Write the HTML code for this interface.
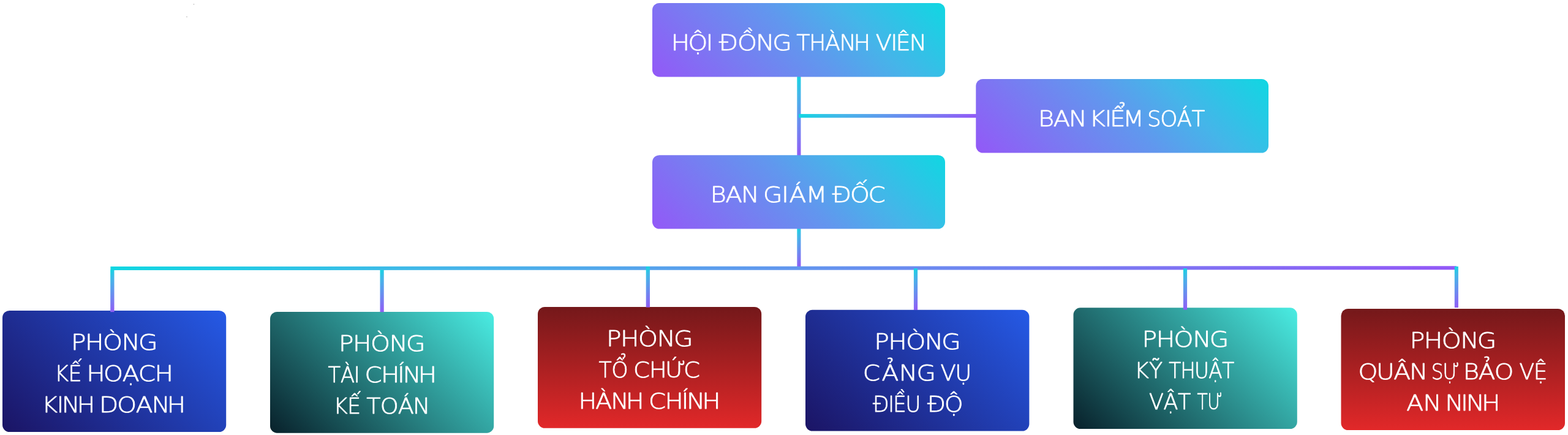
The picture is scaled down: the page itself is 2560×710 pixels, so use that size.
<!DOCTYPE html>
<html lang="vi">
<head>
<meta charset="utf-8">
<title>Sơ đồ tổ chức</title>
<style>
html,body{margin:0;padding:0;width:2560px;height:710px;background:#fff}
svg{display:block;will-change:transform}
text{font-family:'DejaVu Sans Light','DejaVu Sans','Liberation Sans',sans-serif;font-weight:200;font-size:36.3px;fill:#fff;stroke:#fff;stroke-width:0.8;stroke-linejoin:round;white-space:pre}
</style>
</head>
<body>
<svg width="2560" height="710" viewBox="0 0 2560 710">
<defs>
<linearGradient id="gpv" gradientUnits="userSpaceOnUse" x1="89.4" y1="209.8" x2="388.6" y2="-89.4"><stop offset="0" stop-color="#9358f7"/><stop offset="0.25" stop-color="#7b78f2"/><stop offset="0.5" stop-color="#6197ee"/><stop offset="0.7" stop-color="#45b5e9"/><stop offset="1" stop-color="#10d7e2"/></linearGradient>
<linearGradient id="gbl" gradientUnits="userSpaceOnUse" x1="41.83" y1="239.83" x2="323.48" y2="-41.83"><stop offset="0" stop-color="#1b1464"/><stop offset="1" stop-color="#255ae6"/></linearGradient>
<linearGradient id="gtl" gradientUnits="userSpaceOnUse" x1="41.83" y1="239.83" x2="323.48" y2="-41.83"><stop offset="0" stop-color="#08202a"/><stop offset="1" stop-color="#4aede3"/></linearGradient>
<linearGradient id="grd" x1="0" y1="0" x2="0" y2="1"><stop offset="0" stop-color="#74181a"/><stop offset="1" stop-color="#e22829"/></linearGradient>
<linearGradient id="gv" x1="0" y1="0" x2="0.0987" y2="1.0822"><stop offset="0" stop-color="#10d7e2"/><stop offset="0.25" stop-color="#45b5e9"/><stop offset="0.5" stop-color="#6197ee"/><stop offset="0.75" stop-color="#7b78f2"/><stop offset="1" stop-color="#9358f7"/></linearGradient>
<linearGradient id="gw" x1="0" y1="0" x2="0.0488" y2="1.0445"><stop offset="0" stop-color="#10d7e2"/><stop offset="0.25" stop-color="#45b5e9"/><stop offset="0.5" stop-color="#6197ee"/><stop offset="0.75" stop-color="#7b78f2"/><stop offset="1" stop-color="#9358f7"/></linearGradient>
<linearGradient id="gh" x1="0" y1="0" x2="1.0027" y2="0.0027"><stop offset="0" stop-color="#10d7e2"/><stop offset="0.25" stop-color="#45b5e9"/><stop offset="0.5" stop-color="#6197ee"/><stop offset="0.75" stop-color="#7b78f2"/><stop offset="1" stop-color="#9358f7"/></linearGradient>
<linearGradient id="gs" x1="0" y1="0" x2="1.0206" y2="0.0215"><stop offset="0" stop-color="#10d7e2"/><stop offset="0.25" stop-color="#45b5e9"/><stop offset="0.5" stop-color="#6197ee"/><stop offset="0.75" stop-color="#7b78f2"/><stop offset="1" stop-color="#9358f7"/></linearGradient>
</defs>
<g id="specks" fill="#bcbcbc"><rect x="316" y="6" width="1" height="2"/><rect x="304" y="27" width="2" height="1"/></g>
<g id="connectors">
<rect x="1301.35" y="124" width="6.1" height="130.5" fill="url(#gw)"/>
<rect x="1304" y="186.1" width="290" height="6.1" fill="url(#gs)"/>
<rect x="1301.35" y="372" width="6.1" height="63" fill="url(#gv)"/>
</g>
<g id="b1" transform="translate(1065 5)">
<rect width="478" height="120.4" rx="11.5" fill="url(#gpv)"/>
<text y="77"><tspan x="30.75 58.4 87.54" textLength="74.12" lengthAdjust="spacingAndGlyphs">HỘI</tspan> <tspan x="108.76 138.9 169.13 196.3" textLength="125.42" lengthAdjust="spacingAndGlyphs">ĐỒNG</tspan> <tspan x="235.24 256.12 281.98 305.43 328.75" textLength="129.11" lengthAdjust="spacingAndGlyphs">THÀNH</tspan> <tspan x="364.77 389.24 397.56 419.56" textLength="90.26" lengthAdjust="spacingAndGlyphs">VIÊN</tspan></text>
</g>
<g id="b2" transform="translate(1593.3 129)">
<rect width="477.7" height="120.6" rx="11.5" fill="url(#gpv)"/>
<text y="77"><tspan x="101.58 126.35 151.71" textLength="83.22" lengthAdjust="spacingAndGlyphs">BAN</tspan> <tspan x="185.04 210.11 218.58 239.9" textLength="98.59" lengthAdjust="spacingAndGlyphs">KIỂM</tspan> <tspan x="279.7 300.96 328.23 352.21" textLength="97.34" lengthAdjust="spacingAndGlyphs">SOÁT</tspan></text>
</g>
<g id="b3" transform="translate(1065 253.2)">
<rect width="478" height="120.35" rx="11.5" fill="url(#gpv)"/>
<text y="76.8"><tspan x="94.83 119.6 144.96" textLength="83.22" lengthAdjust="spacingAndGlyphs">BAN</tspan> <tspan x="180.96 211.12 223.61 250.61" textLength="106.38" lengthAdjust="spacingAndGlyphs">GIÁM</tspan> <tspan x="293.8 323.04 352.63" textLength="91.6" lengthAdjust="spacingAndGlyphs">ĐỐC</tspan></text>
</g>
<g id="p1" transform="translate(4 507)">
<rect width="365.2" height="198" rx="11.5" fill="url(#gbl)"/>
<text y="64"><tspan x="112.09 135.12 164.06 194.62 222.14" textLength="149.01" lengthAdjust="spacingAndGlyphs">PHÒNG</tspan></text>
<text y="115"><tspan x="85.09 107.46" textLength="45.13" lengthAdjust="spacingAndGlyphs">KẾ</tspan> <tspan x="137.22 165.02 195.67 221.74 248.53" textLength="149.34" lengthAdjust="spacingAndGlyphs">HOẠCH</tspan></text>
<text y="166"><tspan x="64.35 88.74 97.06 121.7" textLength="95.74" lengthAdjust="spacingAndGlyphs">KINH</tspan> <tspan x="158.07 187.27 217.75 243.43 268.76" textLength="151.32" lengthAdjust="spacingAndGlyphs">DOANH</tspan></text>
</g>
<g id="p2" transform="translate(441 509)">
<rect width="365.2" height="197.7" rx="11.5" fill="url(#gtl)"/>
<text y="64"><tspan x="112.09 135.12 164.06 194.62 222.14" textLength="149.01" lengthAdjust="spacingAndGlyphs">PHÒNG</tspan></text>
<text y="115"><tspan x="94.59 115.03 136.84" textLength="53.5" lengthAdjust="spacingAndGlyphs">TÀI</tspan> <tspan x="154.4 181.04 208.06 216.48 241.79" textLength="131.14" lengthAdjust="spacingAndGlyphs">CHÍNH</tspan></text>
<text y="166"><tspan x="103.58 125.95" textLength="45.13" lengthAdjust="spacingAndGlyphs">KẾ</tspan> <tspan x="157.38 179.83 208.7 233.1" textLength="107.92" lengthAdjust="spacingAndGlyphs">TOÁN</tspan></text>
</g>
<g id="p3" transform="translate(878 501)">
<rect width="365.2" height="197.8" rx="11.5" fill="url(#grd)"/>
<text y="64"><tspan x="112.09 135.12 164.06 194.62 222.14" textLength="149.01" lengthAdjust="spacingAndGlyphs">PHÒNG</tspan></text>
<text y="115"><tspan x="99.56 120.24" textLength="48.63" lengthAdjust="spacingAndGlyphs">TỔ</tspan> <tspan x="155.96 181.69 207.9 238.08" textLength="117.32" lengthAdjust="spacingAndGlyphs">CHỨC</tspan></text>
<text y="166"><tspan x="66.48 94.19 119.28 144.08" textLength="115.63" lengthAdjust="spacingAndGlyphs">HÀNH</tspan> <tspan x="180.93 207.57 234.6 243.02 268.32" textLength="131.14" lengthAdjust="spacingAndGlyphs">CHÍNH</tspan></text>
</g>
<g id="p4" transform="translate(1315 505.7)">
<rect width="365.4" height="197.8" rx="11.5" fill="url(#gbl)"/>
<text y="64.3"><tspan x="112.19 135.22 164.16 194.72 222.24" textLength="149.01" lengthAdjust="spacingAndGlyphs">PHÒNG</tspan></text>
<text y="115.3"><tspan x="93.83 124.59 152.83 181.63" textLength="118.12" lengthAdjust="spacingAndGlyphs">CẢNG</tspan> <tspan x="220.59 244.27" textLength="52.3" lengthAdjust="spacingAndGlyphs">VỤ</tspan></text>
<text y="166.3"><tspan x="109.89 134.98 143.02 163.17" textLength="83.96" lengthAdjust="spacingAndGlyphs">ĐIỀU</tspan> <tspan x="198.91 227.04" textLength="60.53" lengthAdjust="spacingAndGlyphs">ĐỘ</tspan></text>
</g>
<g id="p5" transform="translate(1752.5 502.3)">
<rect width="365.3" height="197.7" rx="11.5" fill="url(#gtl)"/>
<text y="63.7"><tspan x="112.14 135.17 164.11 194.67 222.19" textLength="149.01" lengthAdjust="spacingAndGlyphs">PHÒNG</tspan></text>
<text y="114.7"><tspan x="99.6 123.62" textLength="45.84" lengthAdjust="spacingAndGlyphs">KỸ</tspan> <tspan x="155.68 174.75 197.6 220.77 242.71" textLength="110.85" lengthAdjust="spacingAndGlyphs">THUẬT</tspan></text>
<text y="165.7"><tspan x="123.56 147.03 170.45" textLength="69.2" lengthAdjust="spacingAndGlyphs">VẬT</tspan> <tspan x="201.89 218.86" textLength="41.94" lengthAdjust="spacingAndGlyphs">TƯ</tspan></text>
</g>
<g id="p6" transform="translate(2189.5 504)">
<rect width="365.5" height="198" rx="11.5" fill="url(#grd)"/>
<text y="64"><tspan x="112.24 135.27 164.21 194.77 222.29" textLength="149.01" lengthAdjust="spacingAndGlyphs">PHÒNG</tspan></text>
<text y="115"><tspan x="28.12 57.51 85.67 111.58" textLength="119.98" lengthAdjust="spacingAndGlyphs">QUÂN</tspan> <tspan x="147.36 166.05" textLength="47.19" lengthAdjust="spacingAndGlyphs">SỰ</tspan> <tspan x="199.34 224.32 250.38" textLength="85.55" lengthAdjust="spacingAndGlyphs">BẢO</tspan> <tspan x="291.01 314.35" textLength="47.25" lengthAdjust="spacingAndGlyphs">VỆ</tspan></text>
<text y="166"><tspan x="106.76 133.81" textLength="58.22" lengthAdjust="spacingAndGlyphs">AN</tspan> <tspan x="169.66 195.44 204.02 229.59" textLength="103.39" lengthAdjust="spacingAndGlyphs">NINH</tspan></text>
</g>
<g id="branches">
<rect x="180.4" y="435" width="2197.5" height="6" fill="url(#gh)" transform="rotate(-0.0195 180.4 438)"/>
<rect x="180.2" y="440.5" width="6.3" height="68.7" fill="url(#gv)"/>
<rect x="620.5" y="440.5" width="6.2" height="68.8" fill="url(#gv)"/>
<rect x="1054.7" y="435" width="6.3" height="66.6" fill="url(#gv)"/>
<rect x="1491.9" y="438" width="6.2" height="68" fill="url(#gv)"/>
<rect x="1931.9" y="438" width="6.2" height="67.5" fill="url(#gv)"/>
<rect x="2374.8" y="434.9" width="6.1" height="67.2" fill="url(#gv)"/>
</g>
</svg>
</body>
</html>
